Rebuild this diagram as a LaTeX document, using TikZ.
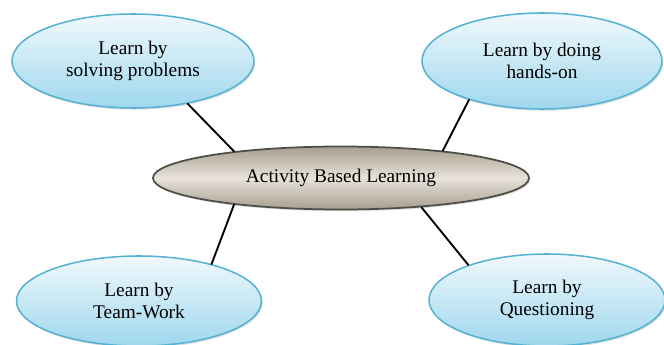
\documentclass[tikz,border=0pt]{standalone}
\usepackage{fontspec}
\setmainfont{Liberation Serif}
\usetikzlibrary{shapes.geometric,shadows,positioning}
\definecolor{skyrim}{HTML}{55B2D2}
\definecolor{skytop}{HTML}{F0F9FC}
\definecolor{skybot}{HTML}{9FD7EE}
\definecolor{taupe}{HTML}{A79E8E}
\definecolor{taupelight}{HTML}{E8E2DA}
\definecolor{rimgray}{HTML}{4E4E48}
\begin{document}
\begin{tikzpicture}[x=0.03cm,y=-0.03cm,line join=round,line cap=round,
  idea/.style={ellipse,draw=skyrim,line width=1.3pt,top color=skytop,bottom color=skybot,
    inner sep=0pt,align=center,font=\fontsize{16.5}{18.7}\selectfont,
    drop shadow={opacity=0.25,shadow xshift=1pt,shadow yshift=-1.5pt}},
  hub/.style={ellipse,draw=rimgray,line width=1.5pt,top color=taupe,bottom color=taupe,middle color=taupelight,
    inner sep=0pt,font=\fontsize{16.5}{18.7}\selectfont,
    drop shadow={opacity=0.25,shadow xshift=1pt,shadow yshift=-1.5pt}}]
\useasboundingbox (0,0) rectangle (664,345);
\node[hub,minimum width=11.28cm,minimum height=1.89cm] (A) at (341,178) {Activity Based Learning};
\node[idea,minimum width=7.26cm,minimum height=2.82cm] (S) at (133,61) {Learn by\\solving problems};
\node[idea,minimum width=7.2cm,minimum height=2.88cm] (H) at (542,61) {Learn by doing\\hands-on};
\node[idea,minimum width=7.35cm,minimum height=2.7cm] (W) at (139,301) {Learn by\\Team-Work};
\node[idea,minimum width=7.08cm,minimum height=2.76cm] (Q) at (547,300) {Learn by\\Questioning};
\draw[line width=1.6pt] (S.-38)--(A.166) (H.208)--(A.15) (W.27)--(A.194) (Q.156)--(A.-20);
\end{tikzpicture}
\end{document}
